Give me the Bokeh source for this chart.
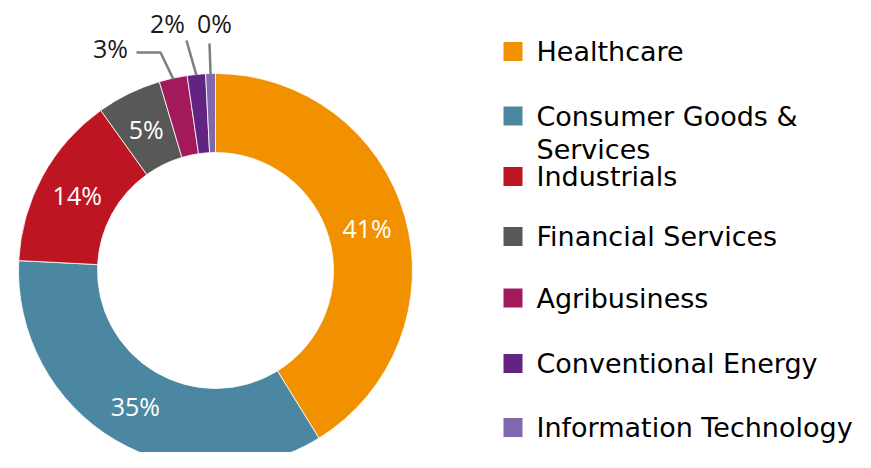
import math
from bokeh.plotting import figure
from bokeh.models import Range1d, ColumnDataSource
from bokeh.core.properties import value
from bokeh.embed import file_html
from bokeh.resources import INLINE

# ---- data ----
sectors = ["Healthcare", "Consumer Goods & Services", "Industrials",
           "Financial Services", "Agribusiness", "Conventional Energy",
           "Information Technology"]
legend_labels = ["Healthcare", "Consumer Goods &\nServices", "Industrials",
                 "Financial Services", "Agribusiness", "Conventional Energy",
                 "Information Technology"]
shares = [41.2, 34.6, 14.3, 5.3, 2.3, 1.5, 0.8]
pct_labels = ["41%", "35%", "14%", "5%", "3%", "2%", "0%"]
colors = ["#F29100", "#4C87A1", "#BD1622", "#585857", "#A21A5B", "#632381", "#8068AC"]

# ---- layout (pixel coordinates measured from the top-left of the picture) ----
FW, FH = 855, 452
def Y(sy):
    return FH - sy

FONT = "Open Sans"
LFONT = "DejaVu Sans"
cx, cy = 215, Y(270)
r_out, r_in = 197, 118

p = figure(width=FW, height=FH, output_backend="svg",
           toolbar_location=None, x_range=Range1d(0, FW),
           y_range=Range1d(0, FH), min_border=0)
p.axis.visible = False
p.grid.visible = False
p.outline_line_color = None
p.background_fill_color = None
p.border_fill_color = None

total = sum(shares)
starts, ends, mids = [], [], []
acc = 0.0
for s in shares:
    a = acc / total * 2 * math.pi
    b = (acc + s) / total * 2 * math.pi
    starts.append(math.pi / 2 - b)
    ends.append(math.pi / 2 - a)
    mids.append((a + b) / 2)
    acc += s

src = ColumnDataSource(dict(start=starts, end=ends, color=colors))
p.annular_wedge(x=cx, y=cy, inner_radius=r_in, outer_radius=r_out,
                start_angle="start", end_angle="end", color="color",
                line_color="white", line_width=0.8, source=src)

# inside labels (first four)
r_mid = (r_in + r_out) / 2
ix = [cx + r_mid * math.sin(m) for m in mids[:4]]
iy = [cy + r_mid * math.cos(m) for m in mids[:4]]
p.text(x=ix, y=iy, text=pct_labels[:4], text_color="white",
       text_font=value(FONT), text_font_size="25px",
       text_align="center", text_baseline="middle")

# outside labels with leader lines
lab_pos = [(110, 47), (167, 22), (214, 22)]
elbows = [[(160, 52), (136, 52)], [(186, 40)], [(209, 43)]]
for k, i in enumerate(range(4, 7)):
    m = mids[i]
    sx = cx + (r_out - 1) * math.sin(m)
    sy = cy + (r_out - 1) * math.cos(m)
    xs = [sx] + [e[0] for e in elbows[k]]
    ys = [sy] + [Y(e[1]) for e in elbows[k]]
    p.line(xs, ys, line_color="#7F7F7F", line_width=2.5)
    p.text(x=[lab_pos[k][0]], y=[Y(lab_pos[k][1])], text=[pct_labels[i]],
           text_color="#1A1A1A", text_font=value(FONT), text_font_size="25px",
           text_align="center", text_baseline="middle")

# legend
leg_y = [51, 115.5, 176, 236, 297.5, 363, 427]
line_h = 33
p.rect(x=[512.5] * 7, y=[Y(v) for v in leg_y], width=19, height=19,
       color=colors, line_color=None)
tx, ty, tt = [], [], []
for lbl, ly in zip(legend_labels, leg_y):
    for j, part in enumerate(lbl.split("\n")):
        tx.append(536)
        ty.append(Y(ly + j * line_h))
        tt.append(part)
p.text(x=tx, y=ty, text=tt, text_color="#000000", text_font=value(LFONT),
       text_font_size="27px", text_align="left", text_baseline="middle")

open("out.html", "w").write(file_html(p, INLINE))
